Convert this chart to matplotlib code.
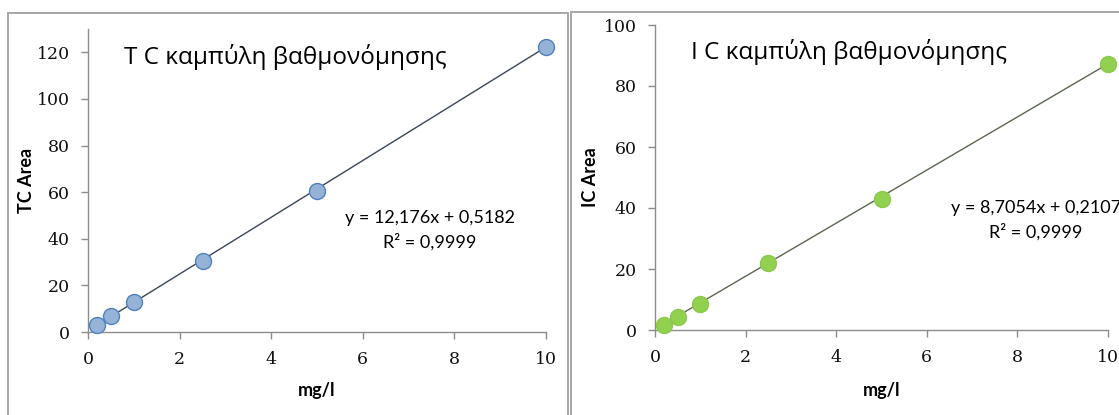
import matplotlib
matplotlib.use("Agg")
import matplotlib.pyplot as plt
from matplotlib.patches import Rectangle
import numpy as np

# Calibration standards (mg/l) and measured peak areas
conc = [0.2, 0.5, 1.0, 2.5, 5.0, 10.0]
tc_area = [2.8, 6.8, 12.9, 30.6, 60.6, 122.3]
ic_area = [1.8, 4.3, 8.5, 22.0, 43.0, 87.3]

# Linear fits shown on each chart
tc_slope, tc_intercept, tc_r2 = 12.176, 0.5182, 0.9999
ic_slope, ic_intercept, ic_r2 = 8.7054, 0.2107, 0.9999

tc_title = "T C καμπύλη βαθμονόμησης"
ic_title = "I C καμπύλη βαθμονόμησης"
tc_ylabel = "TC Area"
ic_ylabel = "IC Area"
xlabel = "mg/l"
x_ticks = [0, 2, 4, 6, 8, 10]
tc_yticks = [0, 20, 40, 60, 80, 100, 120]
ic_yticks = [0, 20, 40, 60, 80, 100]

W, H = 1119, 415
fig = plt.figure(figsize=(W / 100, H / 100), dpi=100)
fig.patch.set_facecolor("white")

SANS = ["Lato", "Noto Sans", "DejaVu Sans"]
GREEK_SANS = ["Open Sans", "Noto Sans", "DejaVu Sans"]
SERIF = ["DejaVu Serif"]


def fx(px):
    return px / W


def fy(py):
    return 1 - py / H


def comma(v):
    return str(v).replace(".", ",")


# chart-area frames
for x0, x1, top in [(8, 568, 13), (571, 1130, 12)]:
    fig.patches.append(Rectangle((fx(x0), fy(H + 10)), fx(x1) - fx(x0),
                                 fy(top) - fy(H + 10), transform=fig.transFigure,
                                 fill=False, edgecolor="#a6a6a6", linewidth=1.4,
                                 zorder=0))


def make_panel(rect, y, slope, intercept, r2, title, ylabel, yticks, ylim,
               face, edge, line_color, title_xy, eq_xy, ylabel_x):
    ax = fig.add_axes(rect)
    ax.set_xlim(0, 10)
    ax.set_ylim(*ylim)
    for side in ("top", "right"):
        ax.spines[side].set_visible(False)
    for side in ("left", "bottom"):
        ax.spines[side].set_color("#8c8c8c")
        ax.spines[side].set_linewidth(1.0)
    ax.set_xticks(x_ticks)
    ax.set_yticks(yticks)
    ax.tick_params(direction="out", length=5, width=1.0, color="#8c8c8c",
                   labelsize=12.5, labelcolor="#111111")
    ax.tick_params(axis="x", pad=9)
    ax.tick_params(axis="y", pad=8)
    for lab in ax.get_xticklabels() + ax.get_yticklabels():
        lab.set_fontfamily(SERIF)
    ax.patch.set_alpha(0)

    xs = np.array([conc[0], conc[-1]])
    ax.plot(xs, slope * xs + intercept, color=line_color, linewidth=1.0,
            zorder=2)
    ax.plot(conc, y, linestyle="none", marker="o", markersize=11.5,
            markerfacecolor=face, markeredgecolor=edge, markeredgewidth=1.0,
            zorder=3, clip_on=False)

    fig.text(fx(title_xy[0]), fy(title_xy[1]), title, family=GREEK_SANS,
             fontsize=17.5, ha="center", va="center", color="black")
    fig.text(fx(eq_xy[0]), fy(eq_xy[1]),
             f"y = {comma(slope)}x + {comma(intercept)}",
             family=SANS, fontsize=13, ha="center", va="center")
    fig.text(fx(eq_xy[0]), fy(eq_xy[1] + 24), f"R² = {comma(r2)}",
             family=SANS, fontsize=13, ha="center", va="center")
    fig.text(fx(ylabel_x), (rect[1] + rect[1] + rect[3]) / 2, ylabel,
             family=SANS, fontweight="bold", fontsize=13, rotation=90,
             ha="center", va="center")
    fig.text(rect[0] + rect[2] / 2, fy(390), xlabel, family=SANS,
             fontweight="bold", fontsize=13, ha="center", va="center")
    return ax


make_panel([fx(88), fy(332), fx(546) - fx(88), fy(29) - fy(332)],
           tc_area, tc_slope, tc_intercept, tc_r2, tc_title, tc_ylabel,
           tc_yticks, (0, 130), "#95b3d7", "#4f81bd", "#3a4656",
           (285, 57), (430, 218), 27)

make_panel([fx(655), fy(330), fx(1108) - fx(655), fy(25) - fy(330)],
           ic_area, ic_slope, ic_intercept, ic_r2, ic_title, ic_ylabel,
           ic_yticks, (0, 100), "#92d050", "#8cc84b", "#5a6650",
           (849, 52), (1036, 208), 591)

fig.savefig("out.png", dpi=100, facecolor="white")
